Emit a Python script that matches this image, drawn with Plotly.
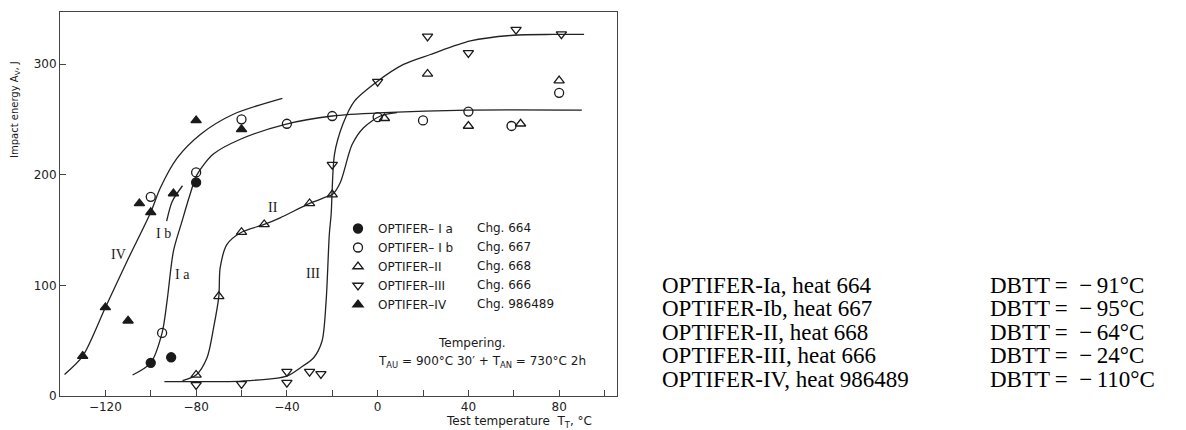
import plotly.graph_objects as go

# ---- measured impact energies (test temperature in °C, energy in J) ----
ia_t = [-100, -91, -80]
ia_e = [30, 35, 193]

ib_t = [-100, -95, -80, -60, -40, -20, 0, 20, 40, 59, 80]
ib_e = [180, 57, 202, 250, 246, 253, 252, 249, 257, 244, 274]

ii_t = [-80, -70, -60, -50, -30, -20, 3, 22, 40, 63, 80]
ii_e = [19, 90, 148, 155, 174, 182, 251, 291, 244, 246, 285]

iii_t = [-80, -60, -40, -40, -30, -25, -20, 0, 22, 40, 61, 81]
iii_e = [10, 11, 12, 22, 22, 20, 209, 284, 325, 310, 331, 327]

iv_t = [-130, -120, -110, -105, -100, -90, -80, -60]
iv_e = [36, 80, 68, 174, 166, 183, 249, 241]

# ---- hand-fitted transition curves ----
fit_iv_t = [-138, -130, -120, -110.4, -100, -95.8, -88.4, -78, -63.6, -42]
fit_iv_e = [19.5, 36, 80, 122, 166, 188, 215, 236.6, 254.6, 269]

fit_ia_t = [-108, -100, -95, -92.8, -90, -86.2, -83, -79.6, -72.4, -60.5, -40.7, -20, 2.6, 40, 90]
fit_ia_e = [19, 30, 57, 86, 131, 158, 180, 200, 218.6, 232, 245.5, 253, 256, 258.4, 258.4]

fit_ib_t = [-93, -90.5, -86]
fit_ib_e = [158, 176, 190]

fit_ii_t = [-86, -80, -75.2, -72.3, -70, -69.4, -66.4, -60, -50, -43, -30, -23.8, -20,
            -16.5, -11.3, -6.2, 1.2, 8.5]
fit_ii_e = [14, 19, 34.6, 61.7, 90, 116, 137, 148, 155, 161, 174, 179, 182,
            192.7, 227, 242.4, 253, 256]

fit_iii_t = [-94, -80, -60, -40, -34, -28.2, -24.5, -22.7, -21.3, -20.5, -19, -15.3,
             -10.2, -0.3, 11.4, 23.3, 40.9, 59.8, 77.4, 91]
fit_iii_e = [13, 13, 13.5, 18, 25.6, 34.6, 49.7, 86, 146, 164, 218.6, 245.7,
             266.5, 284, 299.6, 308.6, 320.8, 326, 326.7, 326.7]

# ---- legend / table text ----
series_names = ["OPTIFER\u2013 I a", "OPTIFER\u2013 I b", "OPTIFER\u2013II",
                "OPTIFER\u2013III", "OPTIFER\u2013IV"]
charge_labels = ["Chg. 664", "Chg. 667", "Chg. 668", "Chg. 666", "Chg. 986489"]

table_names = ["OPTIFER-Ia, heat 664", "OPTIFER-Ib, heat 667", "OPTIFER-II, heat 668",
               "OPTIFER-III, heat 666", "OPTIFER-IV, heat 986489"]
dbtt_values = [-91, -95, -64, -24, -110]

INK = "#1a1a1a"
SANS = "DejaVu Sans, sans-serif"
SERIF = "Liberation Serif, Times New Roman, serif"

fig = go.Figure()

curve_style = dict(color="#222222", width=1.3, shape="spline", smoothing=0.8)
for t, e in [(fit_iv_t, fit_iv_e), (fit_ia_t, fit_ia_e), (fit_ib_t, fit_ib_e),
             (fit_ii_t, fit_ii_e), (fit_iii_t, fit_iii_e)]:
    fig.add_trace(go.Scatter(x=t, y=e, mode="lines", line=curve_style,
                             showlegend=False, hoverinfo="skip"))

marker_specs = [
    (ia_t, ia_e, "circle"),
    (ib_t, ib_e, "circle-open"),
    (ii_t, ii_e, "triangle-up-open"),
    (iii_t, iii_e, "triangle-down-open"),
    (iv_t, iv_e, "triangle-up"),
]
for (t, e, sym), name in zip(marker_specs, series_names):
    fig.add_trace(go.Scatter(
        x=t, y=e, mode="markers", name=name,
        marker=dict(symbol=sym, size=9, color=INK, line=dict(color=INK, width=1.3)),
    ))

# plot area geometry in pixels (used to place paper-referenced text)
L, R, T, B = 60, 617, 12, 396
PW, PH = R - L, B - T


def px(xp):
    return (xp - L) / PW


def py(yp):
    return (B - yp) / PH


def note(x, y, text, size, family=SANS, xanchor="center", color=INK, **kw):
    return dict(x=x, y=y, xref="paper", yref="paper", text=text, showarrow=False,
                xanchor=xanchor, yanchor="middle",
                font=dict(family=family, size=size, color=color), **kw)


ann = []

# curve labels
for txt, xv, yv in [("IV", -114, 128), ("I b", -94.5, 147), ("I a", -86, 110),
                    ("II", -46, 170), ("III", -28.5, 111)]:
    ann.append(dict(x=xv, y=yv, xref="x", yref="y", text=txt, showarrow=False,
                    xanchor="center", yanchor="middle",
                    font=dict(family=SERIF, size=14, color=INK)))

# charge numbers beside the legend entries (legend rows are 19 px apart)
LEG_TOP_ROW = 228
for i, lab in enumerate(charge_labels):
    ann.append(note(px(475), py(LEG_TOP_ROW + i * 19), lab, 12, xanchor="left"))

# tempering note
ann.append(note(px(472), py(343), "Tempering.", 12))
ann.append(note(px(482), py(362),
                "T<sub>AU</sub> = 900°C 30\u2032 + T<sub>AN</sub> = 730°C 2h", 12))

# axis titles
ann.append(note(px(15), py(110), "Impact energy A<sub>V</sub>, J", 10, textangle=-90))
ann.append(note(px(594), py(422), "Test temperature  T<sub>T</sub>, °C", 12,
                xanchor="right"))

# DBTT summary table
for i, (nm, d) in enumerate(zip(table_names, dbtt_values)):
    yy = py(285 + i * 23.5)
    ann.append(note(px(660), yy, nm, 23, family=SERIF, xanchor="left", color="black"))
    ann.append(note(px(988), yy, f"DBTT\u2009=\u2002\u2212\u2009{abs(d)}°C", 23,
                    family=SERIF, xanchor="left", color="black"))

axis_common = dict(showline=True, linecolor="#444444", linewidth=1, mirror=True,
                   ticks="inside", ticklen=6, tickcolor="#444444", showgrid=False,
                   zeroline=False, tickfont=dict(family=SANS, size=12, color="#222222"))

fig.update_layout(
    width=1186, height=430,
    margin=dict(l=L, r=1186 - R, t=T, b=430 - B),
    paper_bgcolor="white", plot_bgcolor="white",
    xaxis=dict(range=[-140, 105.5], tick0=-120, dtick=40,
               minor=dict(dtick=20, tick0=-120, ticks="inside", ticklen=6,
                          tickcolor="#444444", showgrid=False),
               **axis_common),
    yaxis=dict(range=[0, 347], tick0=0, dtick=100, **axis_common),
    legend=dict(x=px(338), y=py(LEG_TOP_ROW - 14), xanchor="left", yanchor="top",
                bgcolor="rgba(0,0,0,0)", font=dict(family=SANS, size=12, color=INK),
                itemwidth=30, tracegroupgap=0),
    annotations=ann,
)

fig.write_html("out.html")
